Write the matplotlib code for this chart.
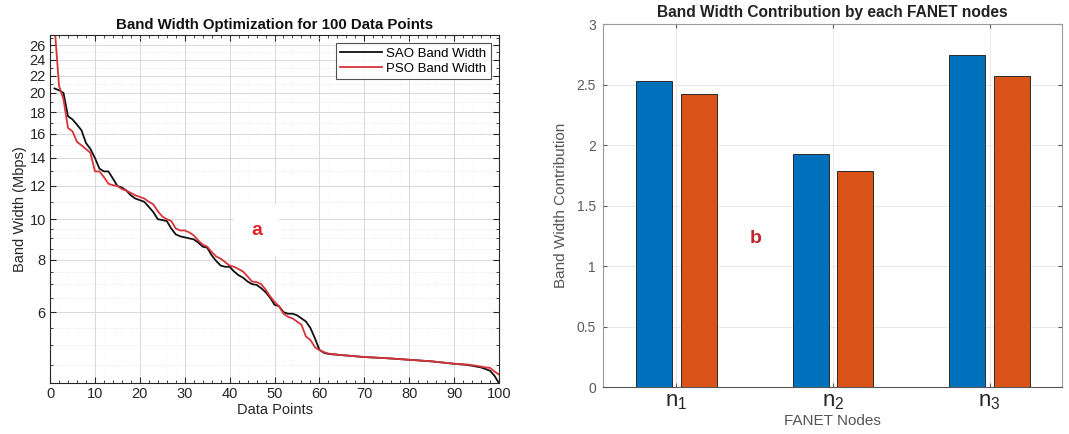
#!/usr/bin/env python3
"""Band width optimization (log line plot) and per-node contribution (grouped bars)."""

import matplotlib

matplotlib.use("Agg")
import matplotlib.pyplot as plt
import numpy as np
from matplotlib.ticker import FixedLocator, NullFormatter

plt.rcParams["font.family"] = ["Liberation Sans", "DejaVu Sans"]

# ---- panel a: band width per data point ----
SAO_X = [1, 2, 3, 4, 5, 6, 7, 8, 9, 10, 11, 12, 13, 14, 15, 16, 17, 18, 19, 20,
         21, 22, 23, 24, 25, 26, 27, 28, 29, 30, 31, 32, 33, 34, 35, 36, 37, 38, 39, 40,
         41, 42, 43, 44, 45, 46, 47, 48, 49, 50, 51, 52, 53, 54, 55, 56, 57, 58, 59, 60,
         61, 62, 65, 70, 75, 80, 85, 90, 93, 95, 96, 97, 98, 99, 100]
SAO_BW = [20.5, 20.3, 20.0, 17.6, 17.3, 16.8, 16.3, 15.2, 14.7, 14.0,
          13.2, 13.0, 13.0, 12.5, 12.0, 11.9, 11.7, 11.4, 11.2, 11.1,
          11.0, 10.7, 10.4, 10.0, 9.95, 9.9, 9.5, 9.2, 9.1, 9.05,
          9.0, 8.95, 8.8, 8.6, 8.55, 8.2, 7.95, 7.75, 7.7, 7.7,
          7.5, 7.35, 7.25, 7.1, 7.0, 6.97, 6.85, 6.7, 6.5, 6.25,
          6.2, 6.0, 5.95, 5.95, 5.9, 5.8, 5.7, 5.5, 5.2, 4.88,
          4.8, 4.77, 4.74, 4.69, 4.66, 4.62, 4.58, 4.52, 4.49, 4.45,
          4.43, 4.39, 4.35, 4.23, 4.06]

PSO_X = [1, 2, 3, 4, 5, 6, 7, 8, 9, 10, 11, 12, 13, 14, 15, 16, 17, 18, 19, 20,
         21, 22, 23, 24, 25, 26, 27, 28, 29, 30, 31, 32, 33, 34, 35, 36, 37, 38, 39, 40,
         41, 42, 43, 44, 45, 46, 47, 48, 49, 50, 51, 52, 53, 54, 55, 56, 57, 58, 59, 60,
         61, 62, 65, 70, 75, 80, 85, 90, 93, 95, 96, 97, 98, 99, 100]
PSO_BW = [29.0, 20.8, 19.3, 16.5, 16.2, 15.3, 15.0, 14.7, 14.4, 13.0,
          13.0, 12.6, 12.15, 12.05, 12.0, 11.8, 11.7, 11.55, 11.4, 11.3,
          11.2, 11.0, 10.85, 10.45, 10.15, 10.0, 9.9, 9.5, 9.4, 9.4,
          9.3, 9.15, 8.9, 8.7, 8.6, 8.35, 8.15, 8.05, 7.9, 7.75,
          7.7, 7.6, 7.5, 7.3, 7.1, 7.08, 7.0, 6.8, 6.55, 6.35,
          6.2, 5.95, 5.85, 5.8, 5.7, 5.6, 5.25, 5.15, 4.95, 4.87,
          4.82, 4.78, 4.74, 4.69, 4.66, 4.62, 4.58, 4.52, 4.50, 4.47,
          4.45, 4.43, 4.42, 4.33, 4.26]

Y_TICKS = [6, 8, 10, 12, 14, 16, 18, 20, 22, 24, 26]
Y_MINOR = [4.5, 5, 5.5, 6.5, 7, 7.5, 8.5, 9, 9.5, 11, 13, 15, 17, 19, 21, 23, 25, 27]

# ---- panel b: band width contribution per node ----
NODES = [r"$\mathregular{n_1}$", r"$\mathregular{n_2}$", r"$\mathregular{n_3}$"]
SAO_CONTRIB = [2.53, 1.93, 2.74]
PSO_CONTRIB = [2.42, 1.79, 2.57]

INK = "#262626"
GRID = "#d9d9d9"


def panel_a(ax):
    ax.set_yscale("log")
    ax.plot(SAO_X, SAO_BW, color="#111111", lw=1.3, label="SAO Band Width")
    ax.plot(PSO_X, PSO_BW, color="#d8333b", lw=1.3, label="PSO Band Width")
    ax.set_xlim(0, 100)
    ax.set_ylim(4.06, 27.5)
    ax.xaxis.set_major_locator(FixedLocator(np.arange(0, 101, 10)))
    ax.xaxis.set_minor_locator(FixedLocator(np.arange(0, 101, 2)))
    ax.yaxis.set_major_locator(FixedLocator(Y_TICKS))
    ax.yaxis.set_minor_locator(FixedLocator(Y_MINOR))
    ax.set_yticklabels([str(t) for t in Y_TICKS])
    ax.yaxis.set_minor_formatter(NullFormatter())
    ax.grid(True, which="major", color=GRID, lw=0.7)
    ax.grid(True, which="minor", axis="y", color="#e2e2e2", lw=0.6, ls=(0, (1, 1.5)))
    ax.grid(True, which="minor", axis="x", color="#f0f0f0", lw=0.5, ls=(0, (1, 2)))
    ax.tick_params(which="both", direction="in", top=True, right=True, colors=INK,
                   labelsize=10.5, pad=3)
    ax.tick_params(which="major", length=4)
    ax.tick_params(which="minor", length=2)
    for s in ax.spines.values():
        s.set_color(INK)
        s.set_linewidth(0.8)
    ax.set_xlabel("Data Points", fontsize=10.5, color=INK, labelpad=1)
    ax.set_ylabel("Band Width (Mbps)", fontsize=10.5, color=INK, labelpad=2)
    ax.set_title("Band Width Optimization for 100 Data Points", fontsize=10.8,
                 fontweight="bold", color="#111111", pad=4)
    leg = ax.legend(loc="upper right", fontsize=9.5, frameon=True, fancybox=False,
                    borderaxespad=0.6, handlelength=3.2, handletextpad=0.3,
                    borderpad=0.35, labelspacing=0.2)
    leg.get_frame().set_edgecolor(INK)
    leg.get_frame().set_linewidth(0.8)
    ax.text(46, 9.4, "a", color="#e0232a", fontsize=14, fontweight="bold",
            ha="center", va="center",
            bbox=dict(boxstyle="square,pad=0.9", facecolor="white", edgecolor="none"))


def panel_b(ax):
    x = np.arange(1, len(NODES) + 1)
    w = 0.23
    ax.bar(x - 0.143, SAO_CONTRIB, w, color="#0072BD", edgecolor="#2b2b2b", lw=0.7, zorder=3)
    ax.bar(x + 0.143, PSO_CONTRIB, w, color="#D95319", edgecolor="#2b2b2b", lw=0.7, zorder=3)
    ax.set_xlim(0.53, 3.46)
    ax.set_ylim(0, 3)
    ax.set_xticks(x)
    ax.set_xticklabels(NODES, fontsize=16, color=INK)
    ax.set_yticks(np.arange(0, 3.01, 0.5))
    ax.set_yticklabels(["0", "0.5", "1", "1.5", "2", "2.5", "3"])
    ax.grid(True, color="#e8e8e8", lw=0.7, zorder=0)
    ax.set_axisbelow(True)
    ax.tick_params(axis="y", direction="in", right=True, length=3, colors="#5a5a5a",
                   labelsize=10, pad=5)
    ax.tick_params(axis="x", direction="in", top=True, length=3, color="#5a5a5a", pad=3)
    for s in ax.spines.values():
        s.set_color("#9a9a9a")
        s.set_linewidth(0.8)
    ax.spines["bottom"].set_color("#555555")
    ax.set_xlabel("FANET Nodes", fontsize=11, color="#555555", labelpad=1)
    ax.set_ylabel("Band Width Contribution", fontsize=11, color="#555555", labelpad=6)
    ax.set_title("Band Width Contribution by each FANET nodes", fontsize=11.2,
                 fontweight="bold", color="#222222", pad=5)
    ax.text(1.508, 1.225, "b", color="#c0272d", fontsize=14, fontweight="bold",
            ha="center", va="center")


def main():
    fig = plt.figure(figsize=(10.69, 4.34), dpi=100)
    ax_a = fig.add_axes([0.0468, 0.1168, 0.4200, 0.8026])
    ax_b = fig.add_axes([0.5638, 0.1076, 0.4294, 0.8371])
    panel_a(ax_a)
    panel_b(ax_b)
    fig.savefig("out.png", dpi=100, facecolor="white")
    plt.close(fig)


if __name__ == "__main__":
    main()
